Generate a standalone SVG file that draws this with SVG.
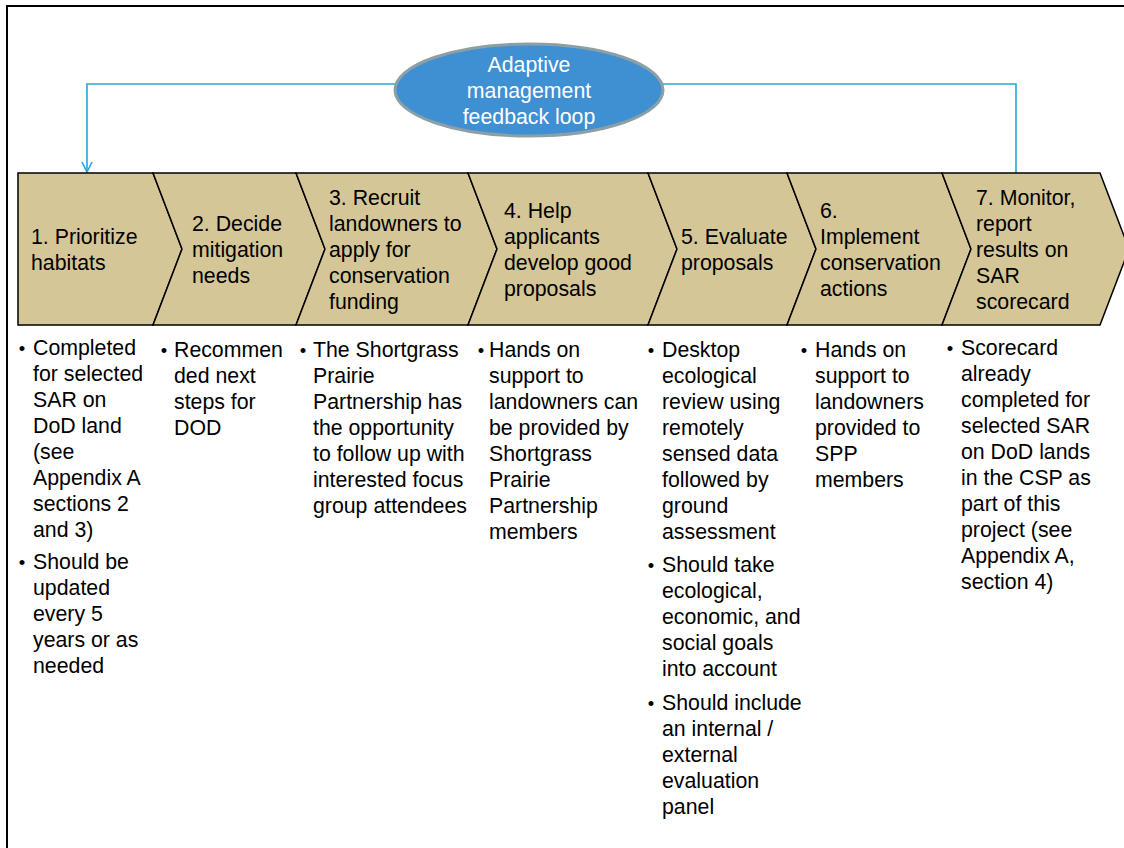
<svg xmlns="http://www.w3.org/2000/svg" width="1124" height="848" viewBox="0 0 1124 848">
<style>
text{font-family:"Liberation Sans",Arial,sans-serif;font-size:21.3px;fill:#000}
.chev{fill:#D4C696;stroke:#000;stroke-width:1.5;stroke-linejoin:miter}
.ell{fill:#3F8FD3;stroke:#8A9FA6;stroke-width:3}
.et{fill:#fff;text-anchor:middle}
.conn{fill:none;stroke:#29A5DC;stroke-width:1.6}
.bul{text-anchor:middle;font-size:18.5px}
</style>
<defs>
<marker id="arr" markerUnits="userSpaceOnUse" markerWidth="12" markerHeight="12" viewBox="0 0 12 12" refX="11" refY="6" orient="auto">
<path d="M1,1 L11,6 L1,11" fill="none" stroke="#29A5DC" stroke-width="1.6"/>
</marker>
</defs>
<rect width="1124" height="848" fill="#fff"/>
<path d="M7,848 V6 H1124" fill="none" stroke="#000" stroke-width="2"/>

<g id="connectors">
<path class="conn" d="M396,84 H87 V172" marker-end="url(#arr)"/>
<path class="conn" d="M662,84 H1016 V173"/>
</g>

<g id="loop">
<ellipse class="ell" cx="529" cy="90" rx="134" ry="46"/>
<text class="et" x="529" y="72">Adaptive</text>
<text class="et" x="529" y="98">management</text>
<text class="et" x="529" y="124">feedback loop</text>
</g>

<g id="step1">
<polygon class="chev" points="18,173 153,173 182,249 153,325 18,325"/>
<text x="31" y="244">1. Prioritize<tspan x="31" dy="26">habitats</tspan></text>
<text class="bul" x="22" y="355">•</text>
<text x="33" y="355">Completed<tspan x="33" dy="26">for selected</tspan><tspan x="33" dy="26">SAR on</tspan><tspan x="33" dy="26">DoD land</tspan><tspan x="33" dy="26">(see</tspan><tspan x="33" dy="26">Appendix A</tspan><tspan x="33" dy="26">sections 2</tspan><tspan x="33" dy="26">and 3)</tspan></text>
<text class="bul" x="22" y="569">•</text>
<text x="33" y="569">Should be<tspan x="33" dy="26">updated</tspan><tspan x="33" dy="26">every 5</tspan><tspan x="33" dy="26">years or as</tspan><tspan x="33" dy="26">needed</tspan></text>
</g>

<g id="step2">
<polygon class="chev" points="153,173 296,173 325,249 296,325 153,325 182,249"/>
<text x="192" y="231">2. Decide<tspan x="192" dy="26">mitigation</tspan><tspan x="192" dy="26">needs</tspan></text>
<text class="bul" x="164" y="357">•</text>
<text x="174" y="357">Recommen<tspan x="174" dy="26">ded next</tspan><tspan x="174" dy="26">steps for</tspan><tspan x="174" dy="26">DOD</tspan></text>
</g>

<g id="step3">
<polygon class="chev" points="296,173 468,173 497,249 468,325 296,325 325,249"/>
<text x="329" y="205">3. Recruit<tspan x="329" dy="26">landowners to</tspan><tspan x="329" dy="26">apply for</tspan><tspan x="329" dy="26">conservation</tspan><tspan x="329" dy="26">funding</tspan></text>
<text class="bul" x="303" y="357">•</text>
<text x="313" y="357">The Shortgrass<tspan x="313" dy="26">Prairie</tspan><tspan x="313" dy="26">Partnership has</tspan><tspan x="313" dy="26">the opportunity</tspan><tspan x="313" dy="26">to follow up with</tspan><tspan x="313" dy="26">interested focus</tspan><tspan x="313" dy="26">group attendees</tspan></text>
</g>

<g id="step4">
<polygon class="chev" points="468,173 648,173 677,249 648,325 468,325 497,249"/>
<text x="504" y="218">4. Help<tspan x="504" dy="26">applicants</tspan><tspan x="504" dy="26">develop good</tspan><tspan x="504" dy="26">proposals</tspan></text>
<text class="bul" x="481" y="357">•</text>
<text x="489" y="357">Hands on<tspan x="489" dy="26">support to</tspan><tspan x="489" dy="26">landowners can</tspan><tspan x="489" dy="26">be provided by</tspan><tspan x="489" dy="26">Shortgrass</tspan><tspan x="489" dy="26">Prairie</tspan><tspan x="489" dy="26">Partnership</tspan><tspan x="489" dy="26">members</tspan></text>
</g>

<g id="step5">
<polygon class="chev" points="648,173 787,173 816,249 787,325 648,325 677,249"/>
<text x="681" y="244">5. Evaluate<tspan x="681" dy="26">proposals</tspan></text>
<text class="bul" x="651" y="357">•</text>
<text x="662" y="357">Desktop<tspan x="662" dy="26">ecological</tspan><tspan x="662" dy="26">review using</tspan><tspan x="662" dy="26">remotely</tspan><tspan x="662" dy="26">sensed data</tspan><tspan x="662" dy="26">followed by</tspan><tspan x="662" dy="26">ground</tspan><tspan x="662" dy="26">assessment</tspan></text>
<text class="bul" x="651" y="572">•</text>
<text x="662" y="572">Should take<tspan x="662" dy="26">ecological,</tspan><tspan x="662" dy="26">economic, and</tspan><tspan x="662" dy="26">social goals</tspan><tspan x="662" dy="26">into account</tspan></text>
<text class="bul" x="651" y="710">•</text>
<text x="662" y="710">Should include<tspan x="662" dy="26">an internal /</tspan><tspan x="662" dy="26">external</tspan><tspan x="662" dy="26">evaluation</tspan><tspan x="662" dy="26">panel</tspan></text>
</g>

<g id="step6">
<polygon class="chev" points="787,173 942,173 971,249 942,325 787,325 816,249"/>
<text x="820" y="218">6.<tspan x="820" dy="26">Implement</tspan><tspan x="820" dy="26">conservation</tspan><tspan x="820" dy="26">actions</tspan></text>
<text class="bul" x="804" y="357">•</text>
<text x="815" y="357">Hands on<tspan x="815" dy="26">support to</tspan><tspan x="815" dy="26">landowners</tspan><tspan x="815" dy="26">provided to</tspan><tspan x="815" dy="26">SPP</tspan><tspan x="815" dy="26">members</tspan></text>
</g>

<g id="step7">
<polygon class="chev" points="942,173 1100,173 1129,249 1100,325 942,325 971,249"/>
<text x="976" y="205">7. Monitor,<tspan x="976" dy="26">report</tspan><tspan x="976" dy="26">results on</tspan><tspan x="976" dy="26">SAR</tspan><tspan x="976" dy="26">scorecard</tspan></text>
<text class="bul" x="950" y="355">•</text>
<text x="961" y="355">Scorecard<tspan x="961" dy="26">already</tspan><tspan x="961" dy="26">completed for</tspan><tspan x="961" dy="26">selected SAR</tspan><tspan x="961" dy="26">on DoD lands</tspan><tspan x="961" dy="26">in the CSP as</tspan><tspan x="961" dy="26">part of this</tspan><tspan x="961" dy="26">project (see</tspan><tspan x="961" dy="26">Appendix A,</tspan><tspan x="961" dy="26">section 4)</tspan></text>
</g>
</svg>
